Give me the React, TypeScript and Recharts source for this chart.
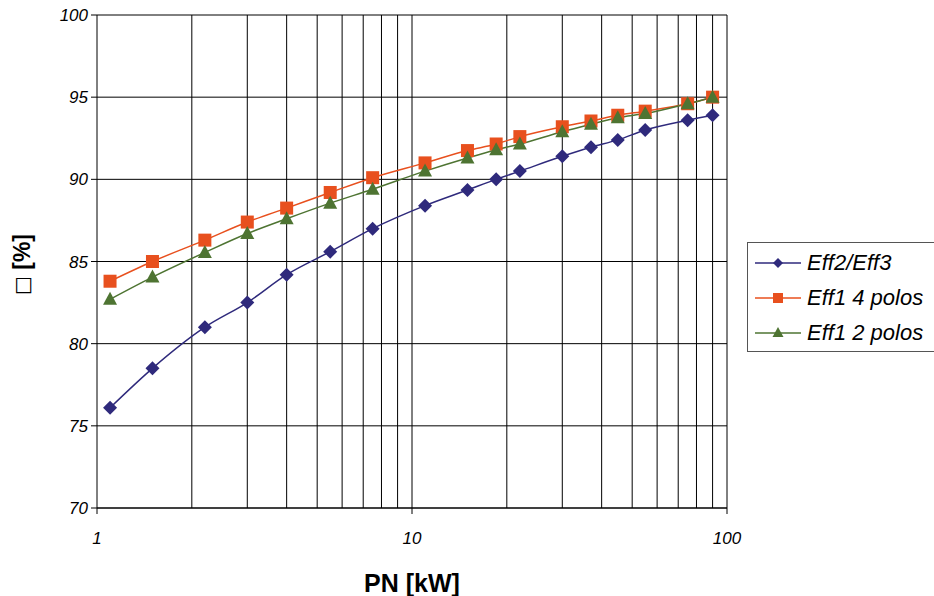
import React from "react";
import { LineChart, Line, XAxis, YAxis, CartesianGrid, ReferenceLine } from "recharts";

const powerKw = [1.1, 1.5, 2.2, 3, 4, 5.5, 7.5, 11, 15, 18.5, 22, 30, 37, 45, 55, 75, 90];
const eff2Eff3 = [76.1, 78.5, 81.0, 82.5, 84.2, 85.6, 87.0, 88.4, 89.35, 90.0, 90.5, 91.4, 91.95, 92.4, 93.0, 93.6, 93.9];
const eff1FourPole = [83.8, 85.0, 86.3, 87.4, 88.25, 89.2, 90.1, 91.0, 91.75, 92.15, 92.6, 93.2, 93.55, 93.9, 94.15, 94.6, 95.0];
const eff1TwoPole = [82.7, 84.05, 85.55, 86.7, 87.6, 88.55, 89.4, 90.5, 91.3, 91.8, 92.15, 92.9, 93.35, 93.75, 94.0, 94.6, 95.0];

const xTicks = [1, 10, 100];
const yTicks = [70, 75, 80, 85, 90, 95, 100];
const minorGrid = [2, 3, 4, 5, 6, 7, 8, 9, 10, 20, 30, 40, 50, 60, 70, 80, 90, 100];

const data = powerKw.map((p, i) => ({
  p,
  eff2: eff2Eff3[i],
  four: eff1FourPole[i],
  two: eff1TwoPole[i],
}));

const NAVY = "#2f2a7c";
const ORANGE = "#e8501e";
const GREEN = "#4e7432";
const FONT = "'Liberation Sans', Arial, sans-serif";

const Diamond = ({ cx, cy, fill }: any) =>
  cx == null ? null : <path d={`M${cx},${cy - 7}L${cx + 7},${cy}L${cx},${cy + 7}L${cx - 7},${cy}Z`} fill={fill} />;
const Square = ({ cx, cy, fill }: any) =>
  cx == null ? null : <rect x={cx - 6.5} y={cy - 6.5} width={13} height={13} fill={fill} />;
const Triangle = ({ cx, cy, fill }: any) =>
  cx == null ? null : <path d={`M${cx},${cy - 7.5}L${cx + 7},${cy + 5.5}L${cx - 7},${cy + 5.5}Z`} fill={fill} />;

// rotated y title: box glyph + [%]
const YTitle = ({ viewBox }: any) => {
  const x = 22;
  const y = viewBox.y + viewBox.height / 2 + 3;
  return (
    <text x={x} y={y} transform={`rotate(-90, ${x}, ${y})`} textAnchor="middle" dominantBaseline="central" fill="#000">
      <tspan fontFamily="'DejaVu Sans', sans-serif" fontSize={20} fill="#000">□</tspan>
      <tspan fontFamily={FONT} fontSize={23} fontWeight="bold" fill="#000"> [%]</tspan>
    </text>
  );
};

const legendItems = [
  { name: "Eff2/Eff3", color: NAVY, shape: "diamond" },
  { name: "Eff1 4 polos", color: ORANGE, shape: "square" },
  { name: "Eff1 2 polos", color: GREEN, shape: "triangle" },
];

function LegendBox() {
  return (
    <div
      style={{
        position: "absolute",
        left: 747,
        top: 242,
        width: 200,
        height: 110,
        boxSizing: "border-box",
        border: "1px solid #555",
        background: "#fff",
        padding: "2px 0 0 7px",
        fontFamily: FONT,
      }}
    >
      {legendItems.map((it) => (
        <div key={it.name} style={{ display: "flex", alignItems: "center", height: 35 }}>
          <svg width={48} height={16} style={{ marginRight: 4 }}>
            <line x1={0} y1={8} x2={46} y2={8} stroke={it.color} strokeWidth={1.5} />
            {it.shape === "diamond" && <path d="M23,3L28,8L23,13L18,8Z" fill={it.color} />}
            {it.shape === "square" && <rect x={18} y={3} width={10} height={10} fill={it.color} />}
            {it.shape === "triangle" && <path d="M23,2L28.5,12L17.5,12Z" fill={it.color} />}
          </svg>
          <span style={{ fontSize: 22, fontStyle: "italic", color: "#000", whiteSpace: "nowrap" }}>{it.name}</span>
        </div>
      ))}
    </div>
  );
}

export default function App() {
  return (
    <div style={{ position: "absolute", left: 0, top: 0, width: 934, height: 596, background: "#fff", overflow: "hidden" }}>
      <LineChart width={934} height={596} data={data} margin={{ top: 15, right: 207, bottom: 0, left: 0 }}>
        <CartesianGrid stroke="#000" vertical={false} fill="#fff" />
        {minorGrid.map((v) => (
          <ReferenceLine key={v} x={v} stroke="#000" strokeWidth={1} />
        ))}
        <XAxis
          dataKey="p"
          type="number"
          scale="log"
          domain={[1, 100]}
          ticks={xTicks}
          allowDataOverflow
          height={88}
          stroke="#000"
          tickSize={6}
          tick={{ fontSize: 17, fontStyle: "italic", fill: "#000", fontFamily: FONT, dy: 16 }}
          label={{ value: "PN [kW]", position: "insideBottom", offset: 4, fontSize: 25, fontWeight: "bold", fill: "#000", fontFamily: FONT }}
        />
        <YAxis
          type="number"
          domain={[70, 100]}
          ticks={yTicks}
          width={97}
          stroke="#000"
          tickSize={6}
          tickMargin={3}
          tick={{ fontSize: 17, fontStyle: "italic", fill: "#000", fontFamily: FONT }}
          label={<YTitle />}
        />
        <Line type="monotone" dataKey="eff2" name="Eff2/Eff3" stroke={NAVY} strokeWidth={1.5} dot={<Diamond fill={NAVY} />} isAnimationActive={false} />
        <Line type="monotone" dataKey="four" name="Eff1 4 polos" stroke={ORANGE} strokeWidth={1.5} dot={<Square fill={ORANGE} />} isAnimationActive={false} />
        <Line type="monotone" dataKey="two" name="Eff1 2 polos" stroke={GREEN} strokeWidth={1.5} dot={<Triangle fill={GREEN} />} isAnimationActive={false} />
      </LineChart>
      <LegendBox />
    </div>
  );
}
